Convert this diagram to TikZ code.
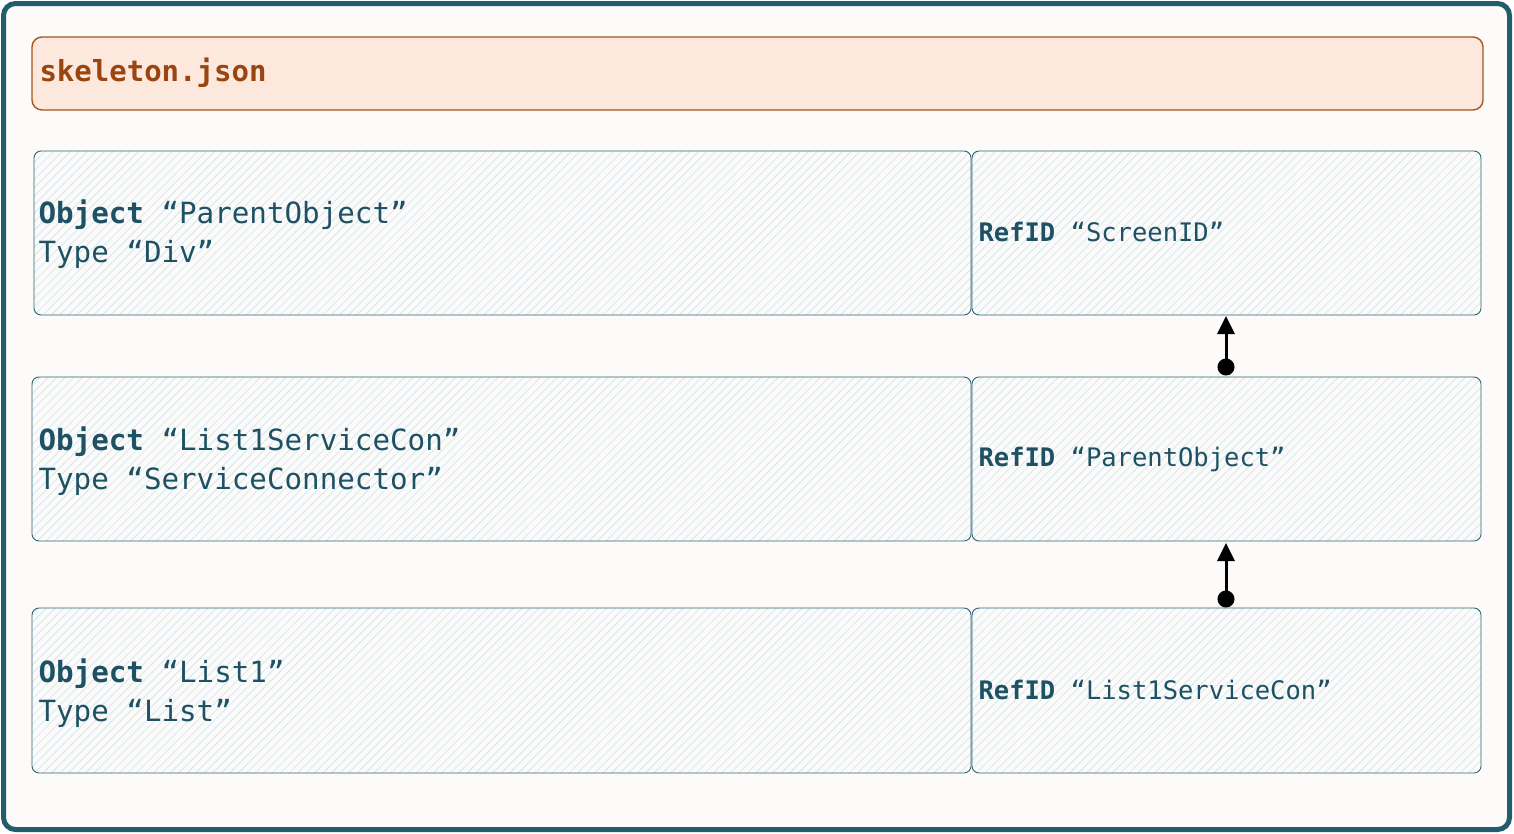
\documentclass[tikz,border=0pt]{standalone}
\usepackage{fontspec}
\setmonofont{DejaVu Sans Mono}
\usetikzlibrary{patterns.meta,arrows.meta}
\definecolor{frame}{HTML}{235C6C}
\definecolor{bgc}{HTML}{FCFBF9}
\definecolor{hdrfill}{HTML}{FCE8DC}
\definecolor{hdrline}{HTML}{A8541A}
\definecolor{hdrtext}{HTML}{9A4510}
\definecolor{boxline}{HTML}{2F6272}
\definecolor{txt}{HTML}{1D5163}
\definecolor{hatch}{HTML}{D2E8F0}
\tikzset{
  rowbox/.style={draw=boxline, line width=0.9pt, rounded corners=7pt,
    preaction={fill=bgc},
    preaction={pattern={Lines[angle=45,distance=6pt,line width=0.8pt]}, pattern color=hatch}},
  lbl/.style={anchor=west, align=left, text=txt, font=\ttfamily\fontsize{29.2}{39.5}\selectfont},
  rlbl/.style={anchor=west, align=left, text=txt, font=\ttfamily\fontsize{25.5}{32}\selectfont},
  link/.style={line width=3pt, {Circle[length=17pt]}-{Triangle[length=18pt,width=17pt]}, shorten <=-8.5pt}
}
\begin{document}
\begin{tikzpicture}[x=1pt,y=-1pt]
\useasboundingbox (0,0) rectangle (1514,833);
\draw[frame, line width=5pt, fill=bgc, rounded corners=12pt] (3.5,3.5) rectangle (1509.5,829.5);
% header
\draw[hdrline, line width=1.4pt, fill=hdrfill, rounded corners=10pt] (32,37) rectangle (1483,110);
\node[anchor=west, text=hdrtext, font=\ttfamily\bfseries\fontsize{29}{34}\selectfont] (hdr) at (36,73) {skeleton.json};
% row 1
\draw[rowbox] (34,151) rectangle (971,315);
\draw[rowbox] (972,151) rectangle (1481,315);
\node[lbl] (o1) at (35,234) {\textbf{Object} “ParentObject”\\Type “Div”};
\node[rlbl] (r1) at (975,232) {\textbf{RefID} “ScreenID”};
% row 2
\draw[rowbox] (32,377) rectangle (971,541);
\draw[rowbox] (972,377) rectangle (1481,541);
\node[lbl] (o2) at (35,461) {\textbf{Object} “List1ServiceCon”\\Type “ServiceConnector”};
\node[rlbl] (r2) at (975,459) {\textbf{RefID} “ParentObject”};
% row 3
\draw[rowbox] (32,608) rectangle (971,773);
\draw[rowbox] (972,608) rectangle (1481,773);
\node[lbl] (o3) at (35,693) {\textbf{Object} “List1”\\Type “List”};
\node[rlbl] (r3) at (975,690) {\textbf{RefID} “List1ServiceCon”};
% connectors
\coordinate (t1) at (1226,316);
\coordinate (b1) at (1226,367);
\coordinate (t2) at (1226,543);
\coordinate (b2) at (1226,599);
\draw[link] (b1) -- (t1);
\draw[link] (b2) -- (t2);
\end{tikzpicture}
\end{document}
